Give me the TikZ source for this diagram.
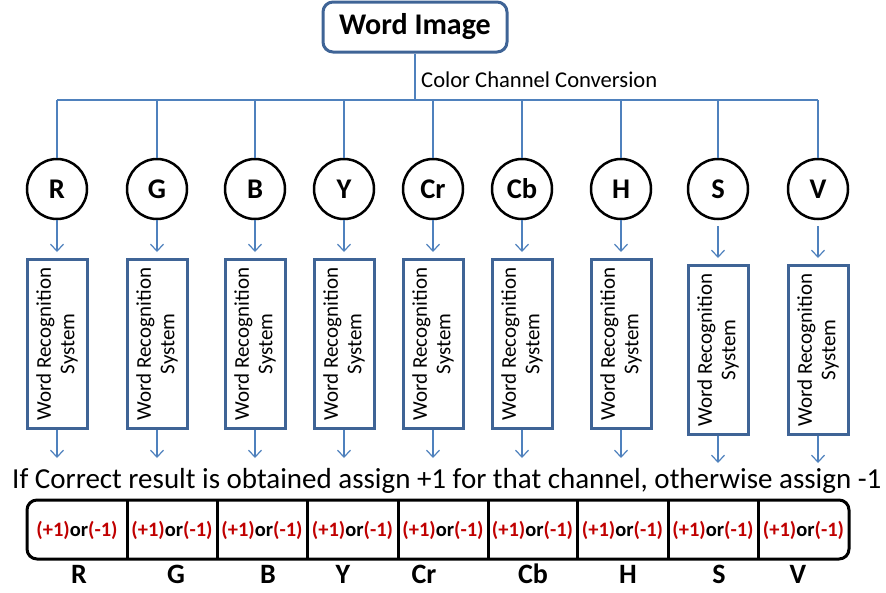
\documentclass[tikz,border=0pt]{standalone}
\usepackage{fontspec}
\setmainfont{Carlito}
\usetikzlibrary{arrows.meta,calc}
\definecolor{lineblue}{HTML}{4F81BD}
\definecolor{boxblue}{HTML}{3F6496}
\definecolor{wordred}{HTML}{C00000}
\begin{document}
\begin{tikzpicture}[x=1pt,y=-1pt,
  conn/.style={draw=lineblue,line width=1.3pt},
  arr/.style={conn,-{Straight Barb[length=7pt,width=13pt,line width=1.2pt]}},
  chan/.style={circle,draw=black,line width=2.5pt,minimum size=60pt,inner sep=0pt,font=\fontsize{28.5}{32}\selectfont\bfseries},
  wrs/.style={draw=boxblue,line width=3pt,minimum width=60pt,minimum height=169pt,inner sep=0pt},
  wrstext/.style={rotate=90,align=center,inner sep=0pt,font=\fontsize{21}{23.5}\selectfont},
  cell/.style={inner sep=0pt,font=\fontsize{20.5}{24}\selectfont\bfseries},
  lab/.style={inner sep=0pt,font=\fontsize{28}{32}\selectfont\bfseries},
  tblline/.style={draw=black,line width=3pt}]
\useasboundingbox (0,0) rectangle (886,592);
% top box
\node (wi) [draw=boxblue,line width=3pt,rounded corners=10pt,minimum width=184pt,minimum height=50pt,inner sep=0pt,font=\fontsize{30}{35}\selectfont\bfseries] at (415,27) {Word Image};
\node (ccc) [anchor=base west,inner sep=0pt,font=\fontsize{22.6}{27}\selectfont] at (421,87) {Color Channel Conversion};
\coordinate (busL) at (57,100);
\coordinate (busR) at (818,100);
\draw[conn] (wi.south) -- (wi.south |- busL);
\draw[conn] (busL) -- (busR);
% channels
\foreach \n/\x/\by/\ty in {R/57/258/458,G/157/258/458,B/255/258/458,Y/344/258/458,Cr/433/258/458,Cb/522/258/458,H/621/258/458,S/718/264/463,V/818/264/463}{
  \node (c\n) [chan] at (\x,189) {\n};
  \draw[conn] (c\n.north) -- (c\n.north |- busL);
  \node (b\n) [wrs,anchor=north] at (\x,\by) {};
  \node (w\n) [wrstext] at (b\n.center) {Word Recognition\\System};
  \coordinate (t\n) at (\x,\ty);
  \draw[arr] (b\n.south) -- (t\n);
}
\foreach \n in {R,G,B,Y,Cr,Cb,H}{
  \draw[arr,shorten >=6pt] (c\n.south) -- (b\n.north);
}
\foreach \n in {S,V}{
  \draw[arr,shorten <=6pt,shorten >=6pt] (c\n.south) -- (b\n.north);
}
% statement
\node (stmt) [anchor=base west,inner sep=0pt,font=\fontsize{29}{34}\selectfont] at (12,488) {If Correct result is obtained assign +1 for that channel, otherwise assign -1};
% table
\node (tbl) [draw=black,line width=3pt,rounded corners=10pt,minimum width=822pt,minimum height=59pt,inner sep=0pt] at (438,529.5) {};
\foreach \d in {127,217,307,398,488,577,668,758}{
  \draw[tblline] (\d,500) -- (\d,559);
}
\foreach \n/\x in {R/77,G/172,B/262,Y/352.5,Cr/443,Cb/532.5,H/622.5,S/713,V/803.5}{
  \node (v\n) [cell] at (\x,530) {\textcolor{wordred}{(+1)}or\textcolor{wordred}{(-1)}};
}
\foreach \n/\x in {R/79,G/176,B/268,Y/343,Cr/424,Cb/533,H/628,S/719,V/798}{
  \node (l\n) [lab,anchor=base] at (\x,583) {\n};
}
\end{tikzpicture}
\end{document}
